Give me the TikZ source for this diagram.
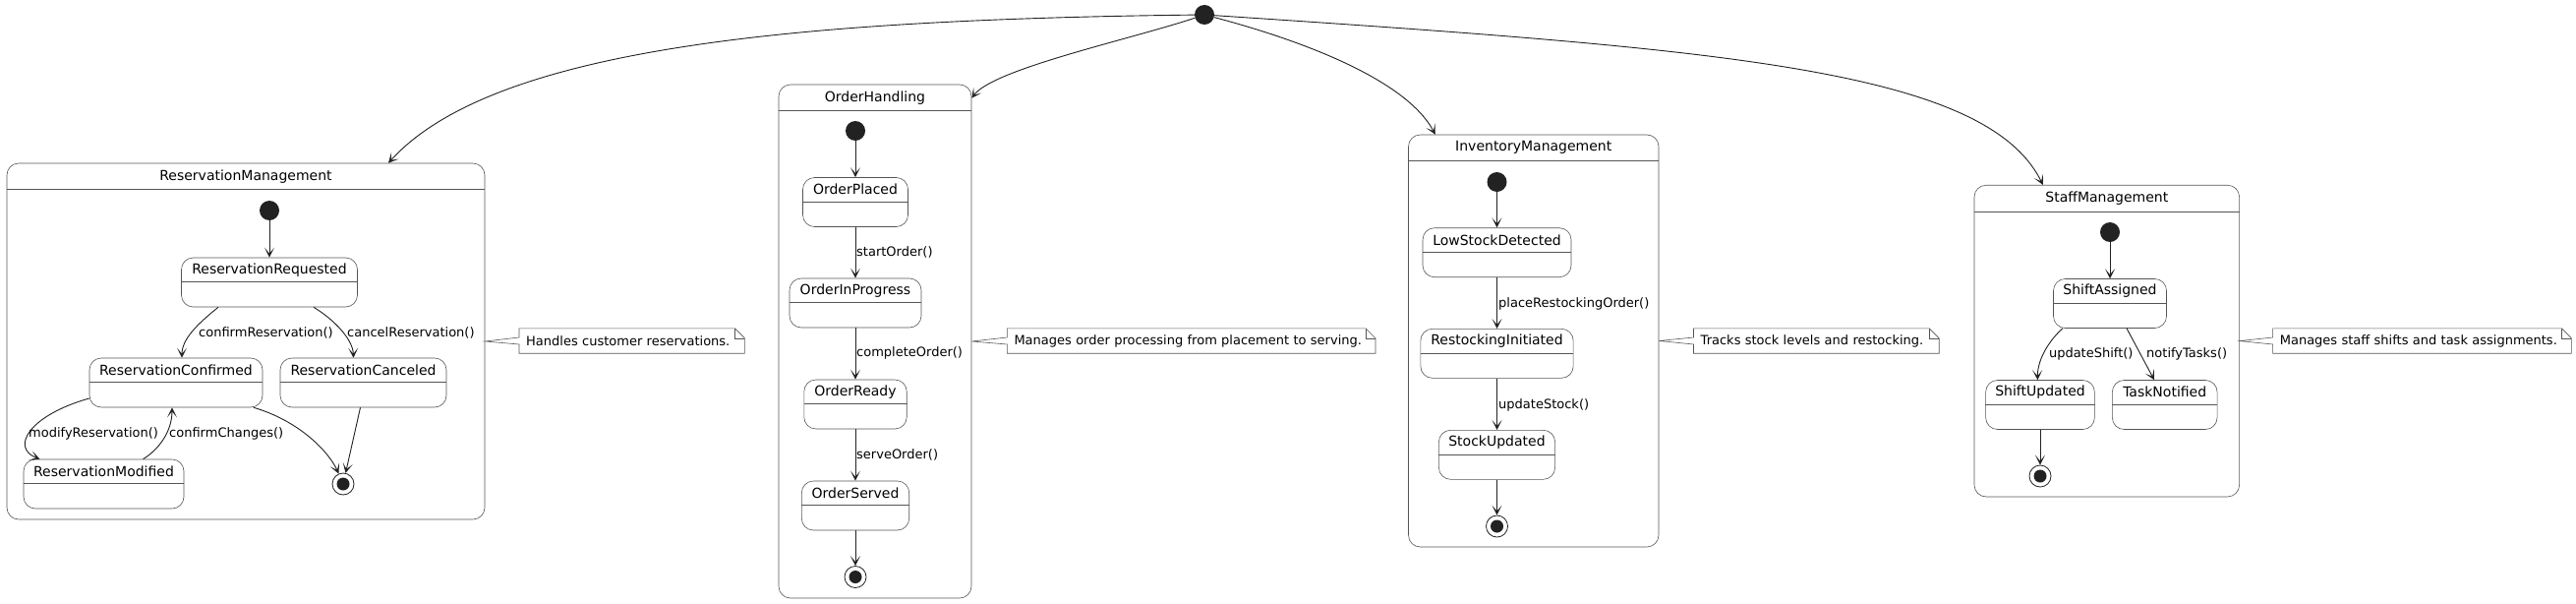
\documentclass[tikz,border=0pt]{standalone}
\usepackage{fontspec}
\setmainfont{DejaVu Sans}
\usetikzlibrary{arrows.meta,calc}
\definecolor{dk}{HTML}{222222}
\definecolor{bd}{HTML}{555555}
\tikzset{
  stbox/.style={draw=bd, line width=0.6pt, rounded corners=12pt, minimum height=50pt, inner sep=0pt},
  comp/.style={draw=bd, line width=0.6pt, rounded corners=12pt, inner sep=0pt},
  sttext/.style={font=\fontsize{14pt}{16pt}\selectfont, inner sep=0pt, text=black},
  lbl/.style={font=\fontsize{13pt}{15pt}\selectfont, inner sep=0pt, anchor=west, text=black},
  initst/.style={circle, fill=dk, minimum size=20pt, inner sep=0pt},
  finalst/.style={circle, draw=dk, line width=0.8pt, minimum size=22pt, inner sep=0pt,
    path picture={\fill[dk] (path picture bounding box.center) circle (6.5pt);}},
  tr/.style={draw=dk, line width=0.9pt, -{Stealth[length=10pt,width=10pt,inset=6pt]}},
  hline/.style={draw=bd, line width=0.6pt},
  notebox/.style={inner xsep=7pt, inner ysep=0pt, minimum height=25pt, align=left,
    font=\fontsize{13pt}{15pt}\selectfont, anchor=west, text=black},
  noteline/.style={draw=bd, line width=0.6pt, line join=miter},
}
\newcommand{\stnode}[5]{%
  \node[stbox, minimum width=#4pt] (#1) at (#2,#3) {};
  \draw[hline] ([yshift=-25pt]#1.north west) -- ([yshift=-25pt]#1.north east);
  \node[sttext] (#1t) at ([yshift=-12.5pt]#1.north) {#5};
}
\newcommand{\compnode}[6]{%
  \node[comp, minimum width=#4pt, minimum height=#5pt] (#1) at (#2,#3) {};
  \draw[hline] ([yshift=-27pt]#1.north west) -- ([yshift=-27pt]#1.north east);
  \node[sttext] (#1t) at ([yshift=-13.5pt]#1.north) {#6};
}
\newcommand{\notenode}[5]{%
  \node[notebox, text width=#3pt] (#1) at (#2,346.5) {#4};
  \draw[noteline] (#1.north west) -- ([xshift=-10pt]#1.north east) -- ([yshift=-10pt]#1.north east)
    -- (#1.south east) -- (#1.south west) -- ([yshift=-3.5pt]#1.west) -- (#5.east)
    -- ([yshift=3.5pt]#1.west) -- cycle;
  \draw[noteline] ([xshift=-10pt]#1.north east) -- ([xshift=-10pt,yshift=-10pt]#1.north east)
    -- ([yshift=-10pt]#1.north east);
}
\begin{document}
\begin{tikzpicture}[x=1pt,y=-1pt]
\fill[white] (0,0) rectangle (2620,613);
\useasboundingbox (0,0) rectangle (2620,613);

% top initial
\node[initst] (start) at (1225,15) {};

% ---------- ReservationManagement ----------
\compnode{rm}{250}{347}{486}{362}{ReservationManagement}
\node[initst] (rmi) at (274,214) {};
\stnode{rr}{274}{287}{179}{ReservationRequested}
\stnode{rc}{179}{389}{176}{ReservationConfirmed}
\stnode{rx}{369.5}{389}{169}{ReservationCanceled}
\stnode{rmod}{105.5}{492}{163}{ReservationModified}
\node[finalst] (rmf) at (349,492) {};

\draw[tr] (rmi) -- (rr);
\draw[tr] ([xshift=-52pt]rr.south) .. controls (200,330) and (185,345) .. ([xshift=6pt]rc.north);
\draw[tr] ([xshift=45pt]rr.south) .. controls (340,325) and (359,345) .. ([xshift=-10pt]rx.north);
\draw[tr] ([yshift=-16pt]rc.west) .. controls (30,422) and (10,455) .. ([xshift=-65pt]rmod.north);
\draw[tr] ([xshift=40pt]rmod.north) .. controls (160,458) and (175,440) .. ([xshift=-4pt]rc.south);
\draw[tr] ([xshift=79pt]rc.south) .. controls (305,428) and (335,460) .. (rmf);
\draw[tr] ([xshift=-3pt]rx.south) -- (rmf);
\node[lbl] (l1) at (202,338) {confirmReservation()};
\node[lbl] (l2) at (353,338) {cancelReservation()};
\node[lbl] (l3) at (29,441) {modifyReservation()};
\node[lbl] (l4) at (172,441) {confirmChanges()};

% ---------- OrderHandling ----------
\compnode{oh}{890}{347}{196}{522}{OrderHandling}
\node[initst] (ohi) at (870,133) {};
\stnode{op}{870}{205.5}{107}{OrderPlaced}
\stnode{oip}{870}{308}{134}{OrderInProgress}
\stnode{ordy}{870}{411}{104.4}{OrderReady}
\stnode{osv}{870}{514}{109.4}{OrderServed}
\node[finalst] (ohf) at (870,586.5) {};
\draw[tr] (ohi) -- (op);
\draw[tr] (op) -- (oip);
\draw[tr] (oip) -- (ordy);
\draw[tr] (ordy) -- (osv);
\draw[tr] (osv) -- (ohf);
\node[lbl] (l5) at (871,256.3) {startOrder()};
\node[lbl] (l6) at (871,359.3) {completeOrder()};
\node[lbl] (l7) at (871,462.6) {serveOrder()};

% ---------- InventoryManagement ----------
\compnode{im}{1559.75}{346.5}{254.5}{419}{InventoryManagement}
\node[initst] (imi) at (1522.5,185) {};
\stnode{lsd}{1522.5}{256.7}{151}{LowStockDetected}
\stnode{ri}{1522.5}{359.3}{155.3}{RestockingInitiated}
\stnode{su}{1522.5}{462.3}{118.2}{StockUpdated}
\node[finalst] (imf) at (1522.5,535) {};
\draw[tr] (imi) -- (lsd);
\draw[tr] (lsd) -- (ri);
\draw[tr] (ri) -- (su);
\draw[tr] (su) -- (imf);
\node[lbl] (l8) at (1524,309) {placeRestockingOrder()};
\node[lbl] (l9) at (1524,411.7) {updateStock()};

% ---------- StaffManagement ----------
\compnode{sm}{2142.8}{346.6}{269.6}{316.7}{StaffManagement}
\node[initst] (smi) at (2146,236) {};
\stnode{sa}{2146}{308.5}{115}{ShiftAssigned}
\stnode{sup}{2075}{411.5}{110.7}{ShiftUpdated}
\stnode{tn}{2201.7}{411.5}{106.7}{TaskNotified}
\node[finalst] (smf) at (2075,484) {};
\draw[tr] (smi) -- (sa);
\draw[tr] ([xshift=-48pt]sa.south) .. controls (2085,345) and (2072,365) .. ([xshift=-2.6pt]sup.north);
\draw[tr] ([xshift=17pt]sa.south) -- ([xshift=-10.7pt]tn.north);
\draw[tr] (sup) -- (smf);
\node[lbl] (l10) at (2083.8,360) {updateShift()};
\node[lbl] (l11) at (2183,360) {notifyTasks()};

% ---------- top-level transitions ----------
\draw[tr] (start) .. controls (800,20) and (500,50) .. ([xshift=145pt]rm.north);
\draw[tr] (start) .. controls (1150,40) and (1010,70) .. ([yshift=-14pt]oh.north east);
\draw[tr] (start) .. controls (1320,40) and (1430,80) .. ([xshift=-100pt]im.north);
\draw[tr] (start) .. controls (1750,50) and (2020,70) .. ([xshift=-65pt]sm.north);

% ---------- notes ----------
\notenode{n1}{528}{215}{Handles customer reservations.}{rm}
\notenode{n2}{1024.3}{360.3}{Manages order processing from placement to serving.}{oh}
\notenode{n3}{1722.5}{235.3}{Tracks stock levels and restocking.}{im}
\notenode{n4}{2311.6}{289.4}{Manages staff shifts and task assignments.}{sm}
\end{tikzpicture}
\end{document}
